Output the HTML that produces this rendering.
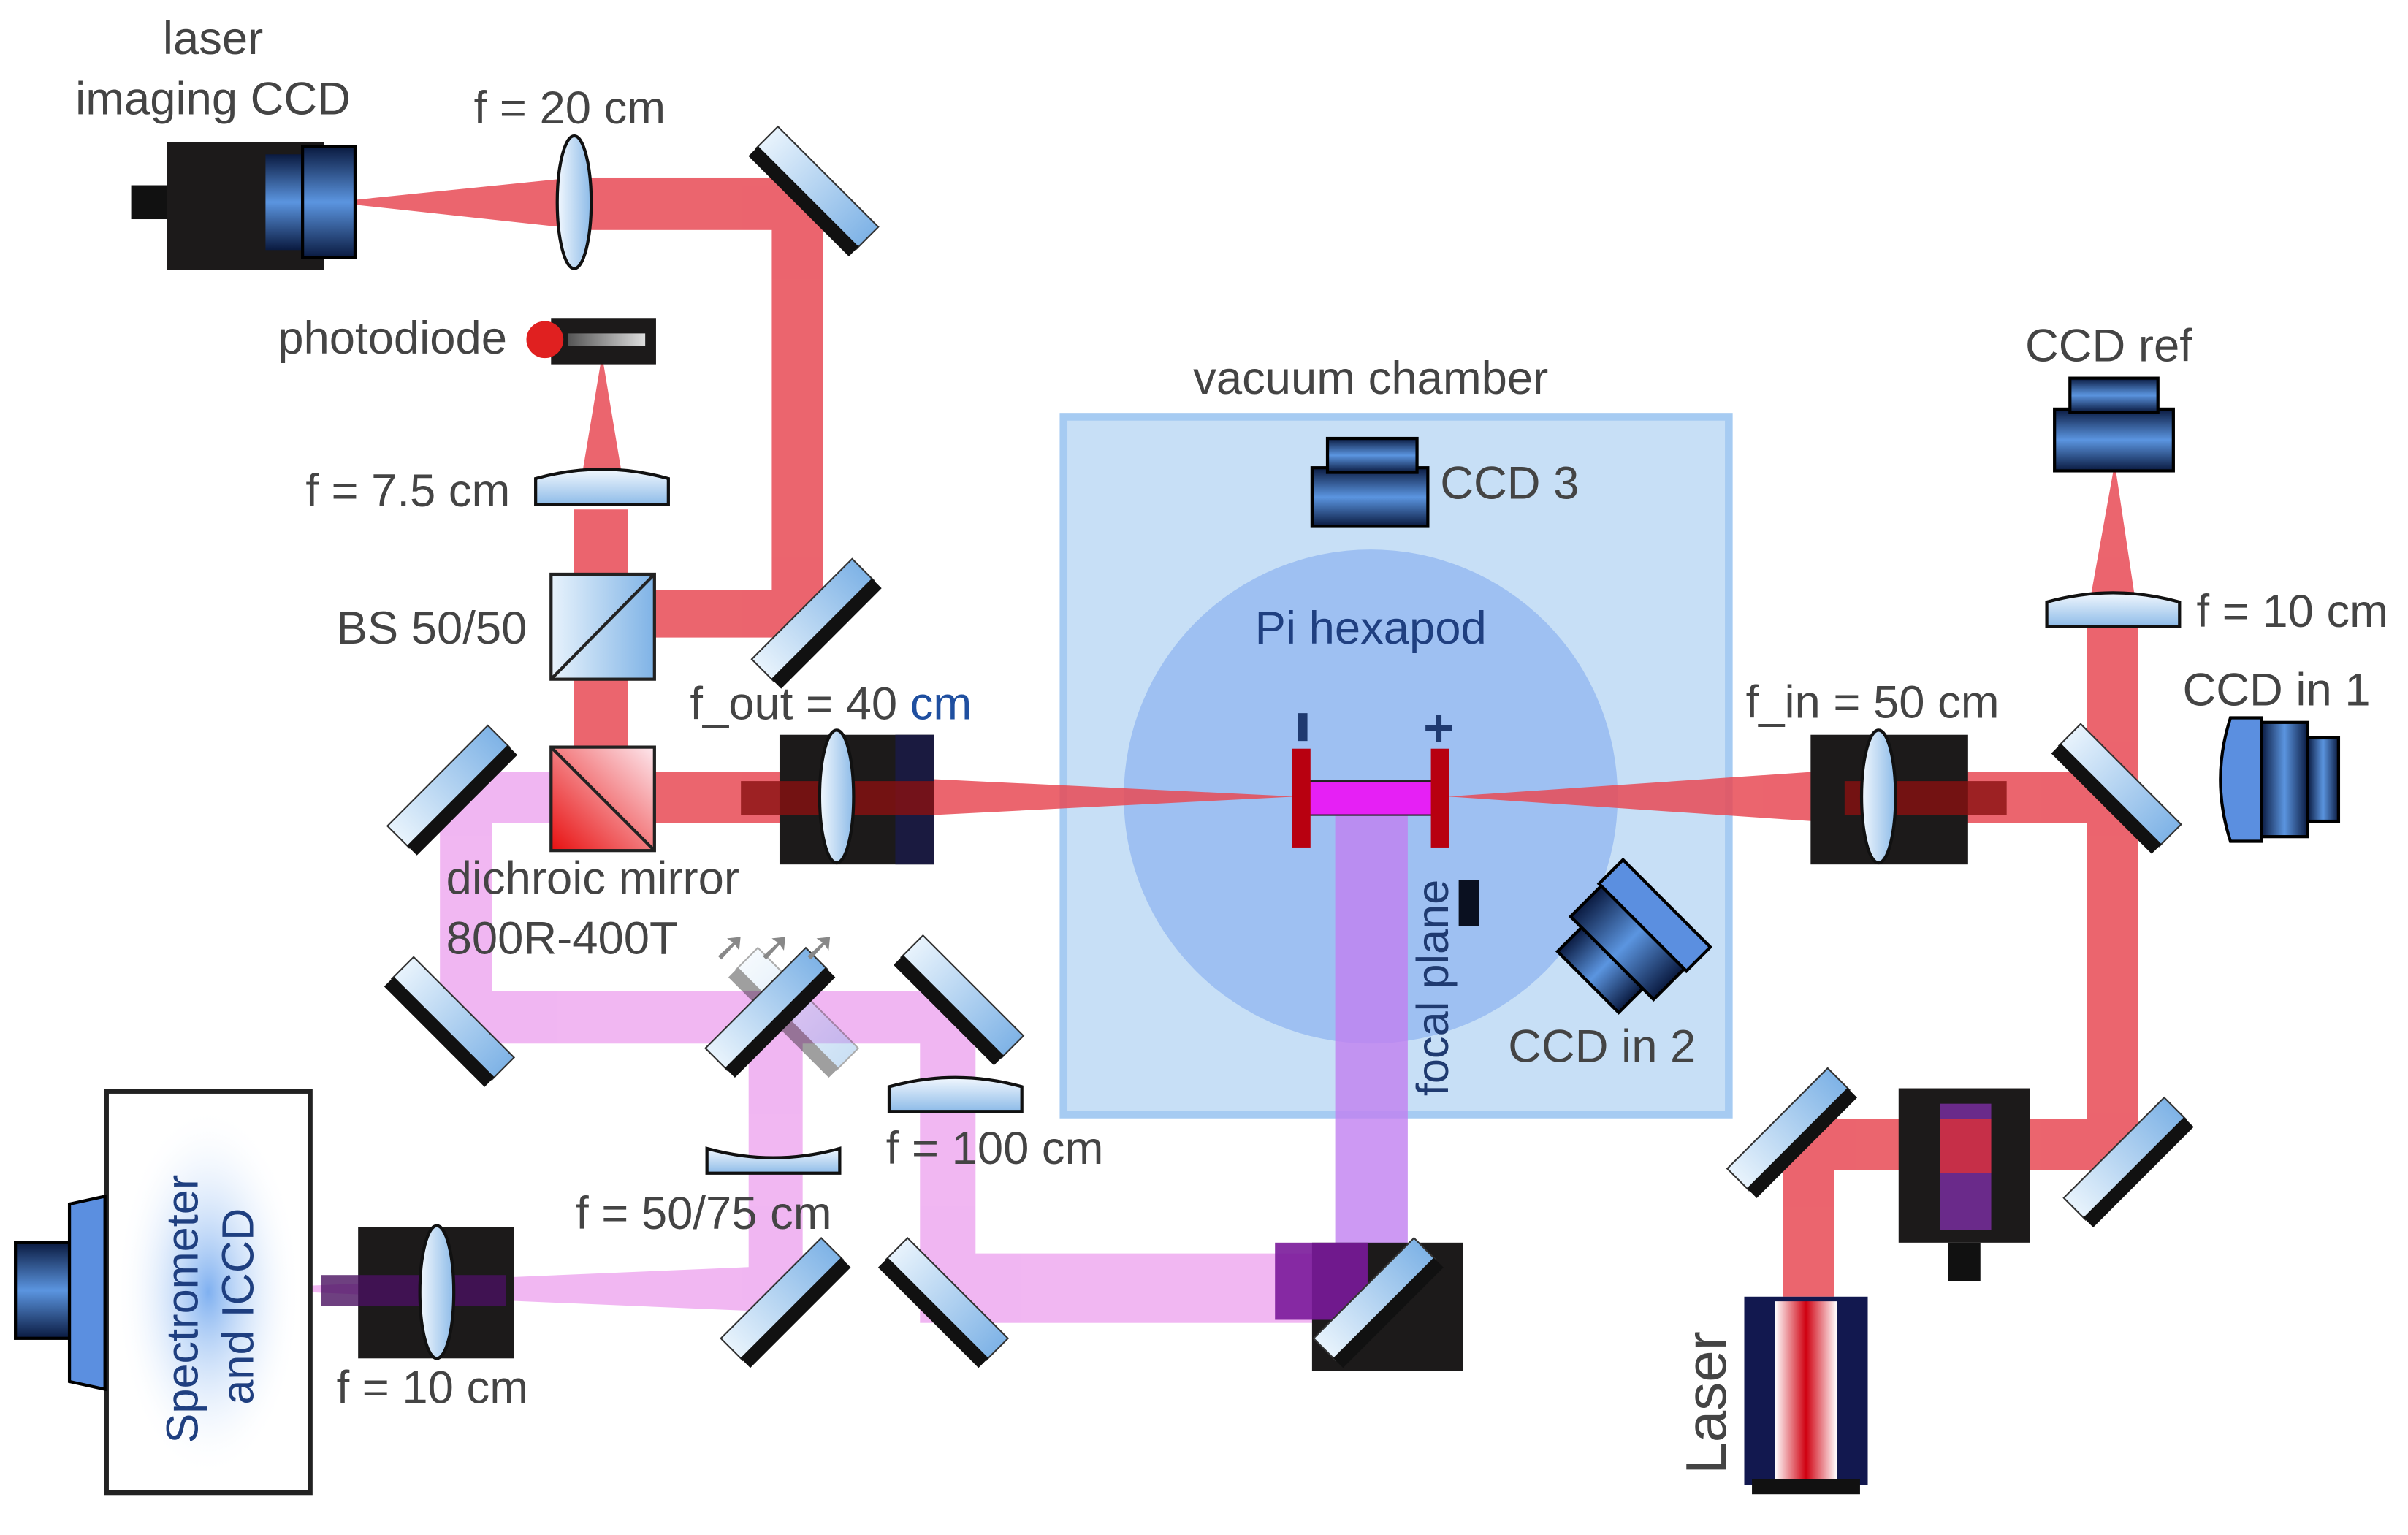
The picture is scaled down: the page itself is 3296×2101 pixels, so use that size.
<!DOCTYPE html>
<html><head><meta charset="utf-8"><style>
html,body{margin:0;padding:0;background:#fff;}
svg{display:block;}
text{font-family:"Liberation Sans",sans-serif;fill:#444;font-size:30px;}
</style></head><body>
<svg width="3296" height="2101" viewBox="0 0 1560 994.4" preserveAspectRatio="none" xmlns="http://www.w3.org/2000/svg">
<defs>
<linearGradient id="mg" x1="0" y1="0" x2="1" y2="0"><stop offset="0" stop-color="#e8f3fc"/><stop offset="1" stop-color="#7fb3e6"/></linearGradient>
<linearGradient id="lg" x1="0" y1="0" x2="1" y2="0"><stop offset="0" stop-color="#f2f8fe"/><stop offset="1" stop-color="#8dbbe8"/></linearGradient>
<linearGradient id="lgv" x1="0" y1="0" x2="0" y2="1"><stop offset="0" stop-color="#f2f8fe"/><stop offset="1" stop-color="#8dbbe8"/></linearGradient>
<linearGradient id="cam" x1="0" y1="0" x2="0" y2="1"><stop offset="0" stop-color="#0a1a40"/><stop offset="0.5" stop-color="#5b95e0"/><stop offset="1" stop-color="#0a1a40"/></linearGradient>
<linearGradient id="camh" x1="0" y1="0" x2="1" y2="0"><stop offset="0" stop-color="#0a1a40"/><stop offset="0.5" stop-color="#5b95e0"/><stop offset="1" stop-color="#0a1a40"/></linearGradient>
<linearGradient id="dich" x1="0" y1="1" x2="1" y2="0"><stop offset="0" stop-color="#e81010"/><stop offset="1" stop-color="#fde8ee"/></linearGradient>
<linearGradient id="las" x1="0" y1="0" x2="1" y2="0"><stop offset="0" stop-color="#fff"/><stop offset="0.5" stop-color="#d00010"/><stop offset="1" stop-color="#fff"/></linearGradient>
<linearGradient id="pd" x1="0" y1="0" x2="1" y2="0"><stop offset="0" stop-color="#555"/><stop offset="1" stop-color="#ddd"/></linearGradient>
<radialGradient id="glow"><stop offset="0" stop-color="#7fb0f0"/><stop offset="1" stop-color="#fff" stop-opacity="0"/></radialGradient>
<g id="mir"><rect x="-46" y="-12" width="92" height="20" fill="url(#mg)" stroke="#333" stroke-width="1"/><rect x="-46" y="6" width="92" height="9" fill="#111"/></g>
</defs>

<rect x="689" y="270" width="431" height="452" fill="#c7dff6" stroke="#a6cbf2" stroke-width="5"/>
<circle cx="888" cy="516" r="160" fill="#9ec0f2"/>
<text x="888" y="255" text-anchor="middle">vacuum chamber</text>
<text x="888" y="417" text-anchor="middle" style="fill:#1f3f80">Pi hexapod</text>

<g fill="#e84a55" opacity="0.85">
<rect x="372" y="115" width="160" height="34"/>
<rect x="500" y="131" width="33" height="270"/>
<rect x="400" y="382" width="133" height="31"/>
<rect x="372" y="330" width="35" height="186"/>
<rect x="407" y="500" width="100" height="33"/>
<polygon points="372,115 372,148 215,131"/>
<polygon points="375,320 405,320 390,230"/>
<polygon points="505,500 505,533 840,516"/>
<polygon points="938,516 1175,500 1175,532"/>
<rect x="1175" y="500" width="195" height="33"/>
<rect x="1352" y="400" width="33" height="358"/>
<polygon points="1352,400 1385,400 1370,300"/>
<rect x="1160" y="725" width="225" height="33"/>
<rect x="1155" y="740" width="33" height="100"/>
</g>

<g fill="#eeaaf0" opacity="0.85">
<rect x="290" y="500" width="80" height="33"/>
<rect x="285" y="511" width="34" height="150"/>
<rect x="285" y="642" width="345" height="34"/>
<rect x="485" y="660" width="35" height="180"/>
<rect x="596" y="647" width="36" height="195"/>
<rect x="596" y="812" width="290" height="45"/>
<polygon points="505,820 505,850 150,835"/>
</g>
<rect x="865" y="528" width="47" height="300" fill="#c080f0" opacity="0.8"/>

<rect x="505" y="476" width="100" height="84" fill="#1c1a1a"/>
<rect x="580" y="476" width="25" height="84" fill="#1a1a40"/>
<rect x="480" y="506" width="125" height="22" fill="#8a1010" opacity="0.8"/>
<rect x="1173" y="476" width="102" height="84" fill="#1c1a1a"/>
<rect x="1195" y="506" width="105" height="22" fill="#8a1010" opacity="0.8"/>
<rect x="232" y="795" width="101" height="85" fill="#1c1a1a"/>
<rect x="208" y="826" width="120" height="20" fill="#4a1060" opacity="0.8"/>
<rect x="850" y="805" width="98" height="83" fill="#1c1a1a"/>
<rect x="826" y="805" width="60" height="50" fill="#7a1a9a" opacity="0.9"/>

<ellipse cx="372" cy="131" rx="11" ry="43" fill="url(#lg)" stroke="#111" stroke-width="2"/>
<ellipse cx="542" cy="516" rx="11" ry="43" fill="url(#lg)" stroke="#111" stroke-width="2"/>
<ellipse cx="1217" cy="516" rx="11" ry="43" fill="url(#lg)" stroke="#111" stroke-width="2"/>
<ellipse cx="283" cy="837" rx="11" ry="43" fill="url(#lg)" stroke="#111" stroke-width="2"/>
<path d="M347,310 Q390,298 433,310 L433,327 L347,327 Z" fill="url(#lgv)" stroke="#111" stroke-width="2"/>
<path d="M1326,390 Q1369,378 1412,390 L1412,406 L1326,406 Z" fill="url(#lgv)" stroke="#111" stroke-width="2"/>
<path d="M576,704 Q619,692 662,704 L662,720 L576,720 Z" fill="url(#lgv)" stroke="#111" stroke-width="2"/>
<path d="M458,744 Q501,756 544,744 L544,760 L458,760 Z" fill="url(#lgv)" stroke="#111" stroke-width="2"/>

<use href="#mir" transform="translate(528,123) rotate(45)"/>
<use href="#mir" transform="translate(528,403) rotate(-45)"/>
<use href="#mir" transform="translate(292,511) rotate(-45)"/>
<use href="#mir" transform="translate(292,661) rotate(45)"/>
<g opacity="0.4"><use href="#mir" transform="translate(515,655) rotate(45)"/></g>
<use href="#mir" transform="translate(498,655) rotate(-45)"/>
<use href="#mir" transform="translate(622,647) rotate(45)"/>
<use href="#mir" transform="translate(508,843) rotate(-45)"/>
<use href="#mir" transform="translate(612,843) rotate(45)"/>
<use href="#mir" transform="translate(892,843) rotate(-45)"/>
<use href="#mir" transform="translate(1372,510) rotate(45)"/>
<use href="#mir" transform="translate(1160,733) rotate(-45)"/>
<use href="#mir" transform="translate(1378,752) rotate(-45)"/>
<text x="462" y="622" style="fill:#888;font-size:26px">➚ ➚ ➚</text>

<rect x="357" y="372" width="67" height="68" fill="url(#mg)" stroke="#222" stroke-width="2"/>
<line x1="357" y1="440" x2="424" y2="372" stroke="#222" stroke-width="2"/>
<rect x="357" y="484" width="67" height="67" fill="url(#dich)" stroke="#222" stroke-width="2"/>
<line x1="357" y1="484" x2="424" y2="551" stroke="#222" stroke-width="2"/>

<rect x="357" y="206" width="68" height="30" fill="#1c1a1a"/>
<rect x="368" y="216" width="50" height="8" fill="url(#pd)"/>
<circle cx="353" cy="220" r="12" fill="#e02020"/>

<rect x="85" y="120" width="25" height="22" fill="#111"/>
<rect x="108" y="92" width="102" height="83" fill="#1c1a1a"/>
<rect x="172" y="100" width="40" height="62" fill="url(#cam)"/>
<rect x="196" y="95" width="34" height="72" fill="url(#cam)" stroke="#000" stroke-width="2"/>

<rect x="850" y="303" width="75" height="38" fill="url(#cam)" stroke="#000" stroke-width="2"/>
<rect x="860" y="284" width="58" height="22" fill="url(#cam)" stroke="#000" stroke-width="2"/>
<rect x="1331" y="265" width="77" height="40" fill="url(#cam)" stroke="#000" stroke-width="2"/>
<rect x="1341" y="245" width="57" height="22" fill="url(#cam)" stroke="#000" stroke-width="2"/>
<path d="M1445,465 L1465,465 L1465,545 L1445,545 Q1432,505 1445,465 Z" fill="#5b8fe0" stroke="#000" stroke-width="2"/>
<rect x="1465" y="468" width="30" height="74" fill="url(#camh)" stroke="#000" stroke-width="2"/>
<rect x="1495" y="478" width="20" height="54" fill="url(#camh)" stroke="#000" stroke-width="2"/>
<g transform="translate(1055,610) rotate(45)">
<rect x="-40" y="-35" width="80" height="22" fill="#5b8fe0" stroke="#000" stroke-width="2"/>
<rect x="-38" y="-13" width="76" height="28" fill="url(#camh)" stroke="#000" stroke-width="2"/>
<rect x="-28" y="15" width="56" height="22" fill="url(#camh)" stroke="#000" stroke-width="2"/>
</g>

<rect x="845" y="506" width="85" height="22" fill="#e620f5" stroke="#222" stroke-width="1"/>
<rect x="837" y="485" width="12" height="64" fill="#b80010"/>
<rect x="927" y="485" width="12" height="64" fill="#b80010"/>
<rect x="841" y="462" width="6" height="18" fill="#1f3a70"/>
<text x="932" y="483" text-anchor="middle" style="fill:#1f3a70;font-size:34px;font-weight:bold">+</text>
<rect x="945" y="570" width="13" height="30" fill="#0a1020"/>
<text transform="translate(938,710) rotate(-90)" style="fill:#1f3a70;font-size:29px">focal plane</text>

<rect x="69" y="707" width="132" height="260" fill="#fff" stroke="#222" stroke-width="3"/>
<ellipse cx="135" cy="837" rx="60" ry="120" fill="url(#glow)"/>
<rect x="10" y="805" width="35" height="62" fill="url(#cam)" stroke="#000" stroke-width="2"/>
<path d="M45,780 L68,775 L68,900 L45,895 Z" fill="#5b8fe0" stroke="#000" stroke-width="2"/>
<text transform="translate(128,935) rotate(-90)" style="fill:#1f3f80;font-size:29px">Spectrometer</text>
<text transform="translate(164,910) rotate(-90)" style="fill:#1f3f80;font-size:29px">and ICCD</text>

<rect x="1130" y="840" width="80" height="122" fill="#12184f"/>
<rect x="1150" y="843" width="40" height="116" fill="url(#las)"/>
<rect x="1135" y="958" width="70" height="10" fill="#111"/>
<text transform="translate(1118,955) rotate(-90)" style="font-size:37px">Laser</text>
<rect x="1230" y="705" width="85" height="100" fill="#1c1a1a"/>
<rect x="1257" y="715" width="33" height="82" fill="#6a2a8a"/>
<rect x="1257" y="725" width="33" height="35" fill="#d03040" opacity="0.9"/>
<rect x="1262" y="805" width="21" height="25" fill="#111"/>

<text x="138" y="35" text-anchor="middle">laser</text>
<text x="138" y="74" text-anchor="middle">imaging CCD</text>
<text x="307" y="80">f = 20 cm</text>
<text x="180" y="229">photodiode</text>
<text x="198" y="328">f = 7.5 cm</text>
<text x="218" y="417">BS 50/50</text>
<text x="447" y="466">f_out = 40 <tspan style="fill:#1f4fa0">cm</tspan></text>
<text x="289" y="579">dichroic mirror</text>
<text x="289" y="618">800R-400T</text>
<text x="574" y="754">f = 100 cm</text>
<text x="373" y="796">f = 50/75 cm</text>
<text x="218" y="909">f = 10 cm</text>
<text x="933" y="323">CCD 3</text>
<text x="977" y="688">CCD in 2</text>
<text x="1131" y="465">f_in = 50 cm</text>
<text x="1312" y="234">CCD ref</text>
<text x="1423" y="406">f = 10 cm</text>
<text x="1414" y="457">CCD in 1</text>
</svg>
</body></html>
